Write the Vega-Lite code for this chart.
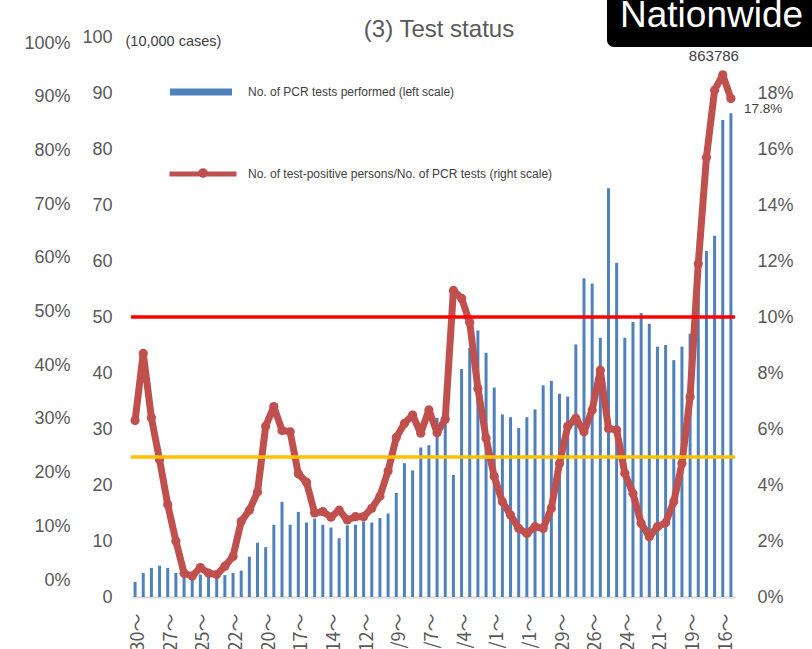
{
  "$schema": "https://vega.github.io/schema/vega-lite/v6.json",
  "width": 604,
  "height": 560,
  "autosize": {"type": "none"},
  "padding": {"left": 131, "top": 37, "right": 77, "bottom": 52},
  "background": "white",
  "title": {"text": "(3) Test status", "fontSize": 24, "font": "Liberation Sans", "fontWeight": "normal", "color": "#595959", "anchor": "middle", "frame": "group", "dx": 6, "dy": 78, "baseline": "alphabetic", "offset": 1},
  "config": {"view": {"stroke": null}, "font": "Liberation Sans"},
  "datasets": {
    "weekly": [
      {"week": "3/30", "tests": 27000, "rate": 0.063},
      {"week": "4/6", "tests": 43000, "rate": 0.087},
      {"week": "4/13", "tests": 52000, "rate": 0.064},
      {"week": "4/20", "tests": 56000, "rate": 0.049},
      {"week": "4/27", "tests": 52000, "rate": 0.033},
      {"week": "5/4", "tests": 43000, "rate": 0.020},
      {"week": "5/11", "tests": 39000, "rate": 0.0085},
      {"week": "5/18", "tests": 36000, "rate": 0.0075},
      {"week": "5/25", "tests": 40000, "rate": 0.0105},
      {"week": "6/1", "tests": 38000, "rate": 0.0085},
      {"week": "6/8", "tests": 37000, "rate": 0.008},
      {"week": "6/15", "tests": 39000, "rate": 0.011},
      {"week": "6/22", "tests": 43000, "rate": 0.0145},
      {"week": "6/29", "tests": 47000, "rate": 0.027},
      {"week": "7/6", "tests": 72000, "rate": 0.031},
      {"week": "7/13", "tests": 97000, "rate": 0.0375},
      {"week": "7/20", "tests": 89000, "rate": 0.061},
      {"week": "7/27", "tests": 129000, "rate": 0.068},
      {"week": "8/3", "tests": 170000, "rate": 0.0595},
      {"week": "8/10", "tests": 129000, "rate": 0.059},
      {"week": "8/17", "tests": 152000, "rate": 0.044},
      {"week": "8/24", "tests": 133000, "rate": 0.041},
      {"week": "8/31", "tests": 140000, "rate": 0.030},
      {"week": "9/7", "tests": 129000, "rate": 0.0305},
      {"week": "9/14", "tests": 124000, "rate": 0.0285},
      {"week": "9/21", "tests": 105000, "rate": 0.031},
      {"week": "9/28", "tests": 128000, "rate": 0.0275},
      {"week": "10/5", "tests": 129000, "rate": 0.0287},
      {"week": "10/12", "tests": 135000, "rate": 0.0287},
      {"week": "10/19", "tests": 133000, "rate": 0.0317},
      {"week": "10/26", "tests": 141000, "rate": 0.036},
      {"week": "11/2", "tests": 149000, "rate": 0.045},
      {"week": "11/9", "tests": 186000, "rate": 0.057},
      {"week": "11/16", "tests": 239000, "rate": 0.062},
      {"week": "11/23", "tests": 226000, "rate": 0.065},
      {"week": "11/30", "tests": 267000, "rate": 0.0585},
      {"week": "12/7", "tests": 271000, "rate": 0.0668},
      {"week": "12/14", "tests": 320000, "rate": 0.0587},
      {"week": "12/21", "tests": 318000, "rate": 0.0635},
      {"week": "12/28", "tests": 218000, "rate": 0.1095},
      {"week": "1/4", "tests": 407000, "rate": 0.1067},
      {"week": "1/11", "tests": 445000, "rate": 0.098},
      {"week": "1/18", "tests": 476000, "rate": 0.0745},
      {"week": "1/25", "tests": 436000, "rate": 0.0567},
      {"week": "2/1", "tests": 374000, "rate": 0.043},
      {"week": "2/8", "tests": 326000, "rate": 0.034},
      {"week": "2/15", "tests": 321000, "rate": 0.0293},
      {"week": "2/22", "tests": 302000, "rate": 0.0245},
      {"week": "3/1", "tests": 321000, "rate": 0.0227},
      {"week": "3/8", "tests": 335000, "rate": 0.0251},
      {"week": "3/15", "tests": 378000, "rate": 0.0245},
      {"week": "3/22", "tests": 386000, "rate": 0.0317},
      {"week": "3/29", "tests": 363000, "rate": 0.0477},
      {"week": "4/5", "tests": 358000, "rate": 0.061},
      {"week": "4/12", "tests": 451000, "rate": 0.0638},
      {"week": "4/19", "tests": 569000, "rate": 0.059},
      {"week": "4/26", "tests": 560000, "rate": 0.0668},
      {"week": "5/3", "tests": 463000, "rate": 0.081},
      {"week": "5/10", "tests": 730000, "rate": 0.0602},
      {"week": "5/17", "tests": 597000, "rate": 0.0596},
      {"week": "5/24", "tests": 463000, "rate": 0.0442},
      {"week": "5/31", "tests": 491000, "rate": 0.037},
      {"week": "6/7", "tests": 507000, "rate": 0.0263},
      {"week": "6/14", "tests": 488000, "rate": 0.0215},
      {"week": "6/21", "tests": 447000, "rate": 0.0251},
      {"week": "6/28", "tests": 450000, "rate": 0.0265},
      {"week": "7/5", "tests": 423000, "rate": 0.034},
      {"week": "7/12", "tests": 447000, "rate": 0.0477},
      {"week": "7/19", "tests": 470000, "rate": 0.0715},
      {"week": "7/26", "tests": 570000, "rate": 0.119},
      {"week": "8/2", "tests": 618000, "rate": 0.157},
      {"week": "8/9", "tests": 645000, "rate": 0.181},
      {"week": "8/16", "tests": 852000, "rate": 0.1865},
      {"week": "8/23", "tests": 863786, "rate": 0.178}
    ],
    "neighbour": [{"share": 0}, {"share": 100}]
  },
  "layer": [
    {
      "data": {"name": "weekly"},
      "layer": [
        {
          "mark": {"type": "bar", "size": 3},
          "encoding": {
            "x": {"field": "week", "type": "nominal", "sort": null, "scale": {"paddingInner": 0, "paddingOuter": 0},
              "axis": {"values": ["3/30","4/27","5/25","6/22","7/20","8/17","9/14","10/12","11/9","12/7","1/4","2/1","3/1","3/29","4/26","5/24","6/21","7/19","8/16"],
                "labelExpr": "datum.value + '～'", "labelAngle": 270, "ticks": false, "domainColor": "#D9D9D9", "domainWidth": 2,
                "labelPadding": 16, "labelOffset": 4, "labelFont": "Noto Sans CJK JP", "labelFontSize": 18, "labelColor": "#595959", "title": null, "grid": false}},
            "y": {"field": "tests", "type": "quantitative", "scale": {"domain": [0, 1000000], "nice": false},
              "axis": {"orient": "left", "values": [0,100000,200000,300000,400000,500000,600000,700000,800000,900000,1000000],
                "labelExpr": "datum.value / 10000", "ticks": false, "domain": false, "grid": false, "labelPadding": 19,
                "labelFontSize": 18, "labelColor": "#595959",
                "title": "(10,000 cases)", "titleAngle": 0, "titleX": -6, "titleY": 4, "titleAlign": "left", "titleBaseline": "middle",
                "titleFontWeight": "normal", "titleFontSize": 14.5, "titleColor": "#404040"}},
            "fill": {"datum": "No. of PCR tests performed (left scale)", "scale": {"range": ["#4F81BD"]},
              "legend": {"orient": "none", "legendX": 39, "legendY": 24, "symbolType": "M-1,-0.11H1V0.11H-1Z", "symbolSize": 3844,
                "symbolStrokeWidth": 0, "labelOffset": 16, "labelFontSize": 12, "labelColor": "#404040", "labelLimit": 600, "title": null, "padding": 0}}
          }
        },
        {
          "transform": [{"filter": "datum.week == '8/23'"}],
          "mark": {"type": "text", "fontSize": 15, "color": "#404040", "align": "right", "dx": 8, "dy": -57},
          "encoding": {
            "x": {"field": "week", "type": "nominal", "sort": null},
            "y": {"field": "tests", "type": "quantitative"},
            "text": {"field": "tests", "type": "quantitative", "format": "d"}
          }
        }
      ]
    },
    {
      "data": {"name": "weekly"},
      "layer": [
        {
          "mark": {"type": "line", "strokeWidth": 7, "strokeCap": "round", "strokeJoin": "round"},
          "encoding": {
            "x": {"field": "week", "type": "nominal", "sort": null},
            "y": {"field": "rate", "type": "quantitative", "scale": {"domain": [0, 0.2], "nice": false},
              "axis": {"orient": "right", "values": [0,0.02,0.04,0.06,0.08,0.1,0.12,0.14,0.16,0.18], "format": ".0%",
                "ticks": false, "domain": false, "grid": false, "labelPadding": 22, "labelFontSize": 18, "labelColor": "#595959", "title": null}},
            "stroke": {"datum": "No. of test-positive persons/No. of PCR tests (right scale)", "scale": {"range": ["#C0504D"]},
              "legend": {"orient": "none", "legendX": 36, "legendY": 101, "symbolType": "M-1,0H1M0.07,-0.03A0.07,0.07 0 1,1 -0.07,-0.03A0.07,0.07 0 1,1 0.07,-0.03",
                "symbolSize": 4489, "symbolStrokeWidth": 5, "labelOffset": 9, "labelFontSize": 12, "labelColor": "#404040", "labelLimit": 600, "title": null, "padding": 0}}
          }
        },
        {
          "mark": {"type": "point", "filled": true, "size": 85, "color": "#C0504D", "opacity": 1},
          "encoding": {
            "x": {"field": "week", "type": "nominal", "sort": null},
            "y": {"field": "rate", "type": "quantitative"},
            "shape": {"datum": "Nationwide",
              "legend": {"orient": "none", "legendX": 476, "legendY": -53, "fillColor": "#000000", "cornerRadius": 7, "padding": 13,
                "symbolSize": 0, "symbolOpacity": 0, "symbolStrokeWidth": 0, "labelOffset": -37, "labelColor": "#ffffff", "labelFontSize": 37,
                "labelLimit": 1000, "title": null}}
          }
        },
        {
          "data": {"values": [{}]},
          "mark": {"type": "rule", "color": "#FF0000", "strokeWidth": 3.5},
          "encoding": {"y": {"datum": 0.1}}
        },
        {
          "data": {"values": [{}]},
          "mark": {"type": "rule", "color": "#FFC000", "strokeWidth": 3.5},
          "encoding": {"y": {"datum": 0.05}}
        },
        {
          "transform": [{"filter": "datum.week == '8/23'"}],
          "mark": {"type": "text", "fontSize": 13.5, "color": "#404040", "align": "left", "dx": 13, "dy": 10},
          "encoding": {
            "x": {"field": "week", "type": "nominal", "sort": null},
            "y": {"field": "rate", "type": "quantitative"},
            "text": {"field": "rate", "type": "quantitative", "format": ".1%"}
          }
        }
      ]
    },
    {
      "data": {"name": "neighbour"},
      "mark": {"type": "point", "opacity": 0},
      "encoding": {
        "x": {"datum": "3/30"},
        "y": {"field": "share", "type": "quantitative", "scale": {"domain": [0, 100], "range": [543, 6], "nice": false},
          "axis": {"orient": "left", "offset": 61, "values": [0,10,20,30,40,50,60,70,80,90,100], "labelExpr": "datum.value + '%'",
            "ticks": false, "domain": false, "grid": false, "labelPadding": 0, "labelFontSize": 18, "labelColor": "#595959", "title": null}}
      }
    }
  ],
  "resolve": {"scale": {"y": "independent"}}
}
